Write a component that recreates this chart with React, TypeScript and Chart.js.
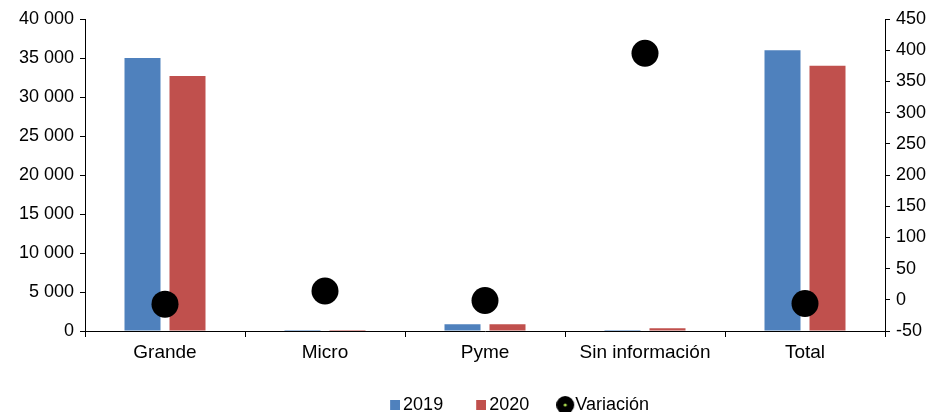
import React, { useEffect, useRef } from "react";
import { Chart, registerables } from "chart.js";

Chart.register(...registerables);

const categories = ["Grande", "Micro", "Pyme", "Sin información", "Total"];
const values2019 = [35000, 3, 870, 5, 36000];
const values2020 = [32700, 3.4, 860, 350, 34000];
const variacion = [-7, 14, -1, 395, -6];
const leftTicks = [0, 5000, 10000, 15000, 20000, 25000, 30000, 35000, 40000];
const rightTicks = [-50, 0, 50, 100, 150, 200, 250, 300, 350, 400, 450];

const BLUE = "#4F81BD";
const RED = "#C0504D";
const FONT = "'Liberation Sans', Arial, sans-serif";

function makeSquare(color: string) {
  const c = document.createElement("canvas");
  c.width = 12;
  c.height = 10;
  const ctx = c.getContext("2d")!;
  ctx.fillStyle = color;
  ctx.fillRect(2, 0, 10, 10);
  return c;
}
function makeDot() {
  const c = document.createElement("canvas");
  c.width = 20;
  c.height = 18;
  const ctx = c.getContext("2d")!;
  ctx.fillStyle = "#000";
  ctx.beginPath();
  ctx.arc(9, 9, 9, 0, Math.PI * 2);
  ctx.fill();
  ctx.fillStyle = "#A8D84E";
  ctx.beginPath();
  ctx.arc(9, 9, 1.6, 0, Math.PI * 2);
  ctx.fill();
  return c;
}

const legendShift = {
  id: "legendShift",
  afterLayout(chart: any) {
    const lg = chart.legend;
    if (lg) {
      const h = lg.bottom - lg.top;
      lg.left += 53;
      lg.right += 53;
      lg.top = 359;
      lg.bottom = 359 + h;
    }
  },
};

export default function App() {
  const ref = useRef<HTMLCanvasElement>(null);
  useEffect(() => {
    document.body.style.margin = "0";
    const icons = [makeSquare(BLUE), makeSquare(RED), makeDot()];
    const chart = new Chart(ref.current!, {
      type: "bar",
      plugins: [legendShift],
      data: {
        labels: categories,
        datasets: [
          {
            label: "2019",
            data: values2019,
            backgroundColor: BLUE,
            yAxisID: "y",
            categoryPercentage: 0.5625,
            barPercentage: 0.8,
            order: 2,
          },
          {
            label: "2020",
            data: values2020,
            backgroundColor: RED,
            yAxisID: "y",
            categoryPercentage: 0.5625,
            barPercentage: 0.8,
            order: 2,
          },
          {
            type: "line",
            label: "Variación",
            data: variacion,
            yAxisID: "y1",
            showLine: false,
            pointRadius: 13.5,
            pointHoverRadius: 13.5,
            backgroundColor: "#000",
            borderColor: "#000",
            borderWidth: 0,
            order: 1,
          } as any,
        ],
      },
      options: {
        animation: false,
        responsive: false,
        maintainAspectRatio: false,
        events: [],
        layout: { padding: { top: 19, left: 0, right: 0, bottom: -24 } },
        plugins: {
          tooltip: { enabled: false },
          legend: {
            position: "bottom",
            labels: {
              usePointStyle: true,
              pointStyleWidth: 0.01,
              padding: 37,
              color: "#000",
              font: { family: FONT, size: 18 },
              generateLabels: (ch: any) =>
                ch.data.datasets.map((ds: any, i: number) => ({
                  text: ds.label,
                  pointStyle: icons[i],
                  fillStyle: "#000",
                  strokeStyle: "#000",
                  lineWidth: 0,
                  hidden: false,
                  datasetIndex: i,
                  fontColor: "#000",
                })),
            },
          },
        },
        scales: {
          x: {
            offset: true,
            grid: {
              offset: true,
              drawOnChartArea: false,
              drawTicks: true,
              tickLength: 6,
              color: "#000",
            },
            border: { display: true, color: "#000", width: 1 },
            ticks: {
              color: "#000",
              padding: 4,
              font: { family: FONT, size: 19 },
              maxRotation: 0,
            },
            afterFit: (s: any) => {
              s.height = 40;
            },
          },
          y: {
            position: "left",
            min: 0,
            max: 40000,
            afterBuildTicks: (s: any) => {
              s.ticks = leftTicks.map((v) => ({ value: v }));
            },
            grid: {
              drawOnChartArea: false,
              drawTicks: true,
              tickLength: 5,
              color: "#000",
            },
            border: { display: true, color: "#000", width: 1 },
            ticks: {
              color: "#000",
              padding: 6,
              font: { family: FONT, size: 18 },
              callback: (v: any) =>
                String(v).replace(/\B(?=(\d{3})+(?!\d))/g, " "),
            },
            afterFit: (s: any) => {
              s.width = 85;
            },
          },
          y1: {
            position: "right",
            min: -50,
            max: 450,
            afterBuildTicks: (s: any) => {
              s.ticks = rightTicks.map((v) => ({ value: v }));
            },
            grid: {
              drawOnChartArea: false,
              drawTicks: true,
              tickLength: 5,
              color: "#000",
            },
            border: { display: true, color: "#000", width: 1 },
            ticks: {
              color: "#000",
              padding: 6,
              font: { family: FONT, size: 18 },
            },
            afterFit: (s: any) => {
              s.width = 52;
            },
          },
        },
      },
    });
    return () => chart.destroy();
  }, []);
  return (
    <div style={{ width: 937, height: 412 }}>
      <canvas ref={ref} width={937} height={412} style={{ display: "block" }} />
    </div>
  );
}
